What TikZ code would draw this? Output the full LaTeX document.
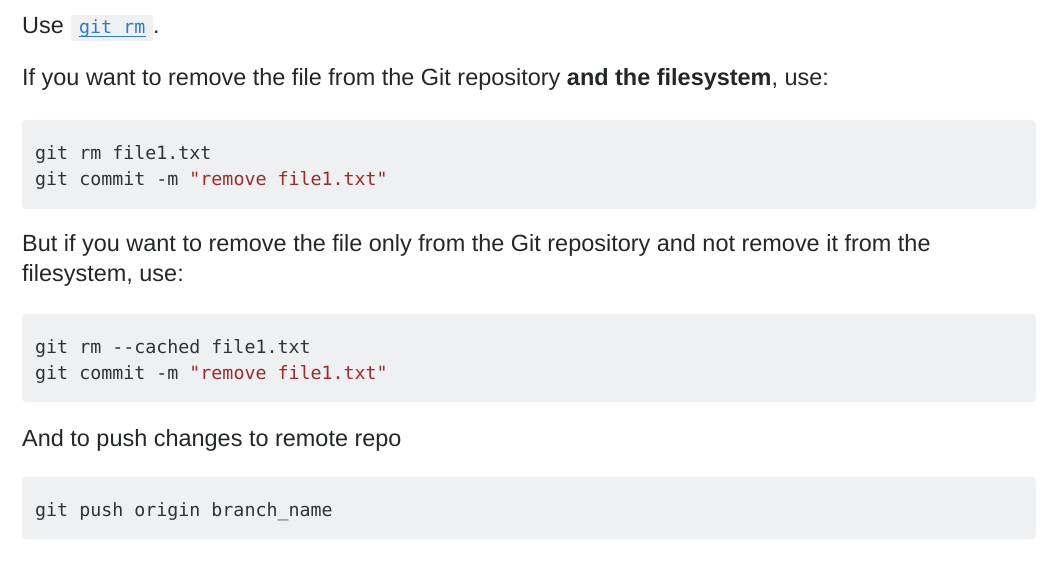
\documentclass[tikz,border=0pt]{standalone}
\usepackage{fontspec}
\setmainfont{Liberation Sans}
\setmonofont{DejaVu Sans Mono}
\usetikzlibrary{positioning}
\definecolor{bodytext}{HTML}{242729}
\definecolor{codetext}{HTML}{303336}
\definecolor{codestr}{HTML}{9C2B2B}
\definecolor{codebg}{HTML}{EFF0F1}
\definecolor{linkblue}{HTML}{2D7BC4}
\tikzset{
    para/.style={
           anchor=base west,
           inner sep=0pt,
           text=bodytext,
           font=\fontsize{23.45}{30}\selectfont,
           },
    codeline/.style={
           anchor=base west,
           inner sep=0pt,
           text=codetext,
           font=\ttfamily\fontsize{18.3}{26}\selectfont,
           },
    codebox/.style={
           fill=codebg,
           rounded corners=4pt,
           },
}
\newcommand{\codestring}[1]{\textcolor{codestr}{#1}}

\begin{document}
\begin{tikzpicture}[x=1pt,y=-1pt]
 \useasboundingbox[fill=white] (0,0) rectangle (1060,561);

 % first line with the inline code
 \fill[codebox,rounded corners=2pt] (71,15) rectangle (153,41);
 \node[para] (use) at (22,34) {Use};
 \node[codeline,text=linkblue] (gitrm) at (79,34) {git rm};
 \draw[linkblue,line width=0.9pt] ([yshift=-2pt]gitrm.base west) -- ([yshift=-2pt]gitrm.base east);
 \node[para] (dot) at (153,34) {.};

 % remove from repository and filesystem
 \node[para] (both) at (22,86)
 {If you want to remove the file from the Git repository \textbf{and the filesystem}, use:};

 \fill[codebox] (22,120) rectangle (1036,209);
 \node[codeline] (rmA) at (35,160) {git rm file1.txt};
 \node[codeline] (commitA) at (35,186) {git commit -m \codestring{"remove file1.txt"}};

 % remove only from repository
 \node[para] (onlyA) at (22,252)
 {But if you want to remove the file only from the Git repository and not remove it from the};
 \node[para] (onlyB) at (22,282) {filesystem, use:};

 \fill[codebox] (22,314) rectangle (1036,402);
 \node[codeline] (rmB) at (35,353) {git rm --cached file1.txt};
 \node[codeline] (commitB) at (35,379) {git commit -m \codestring{"remove file1.txt"}};

 % push to remote
 \node[para] (push) at (22,446) {And to push changes to remote repo};

 \fill[codebox] (22,477) rectangle (1036,539);
 \node[codeline] (pushcmd) at (35,516) {git push origin branch\_name};
\end{tikzpicture}
\end{document}
